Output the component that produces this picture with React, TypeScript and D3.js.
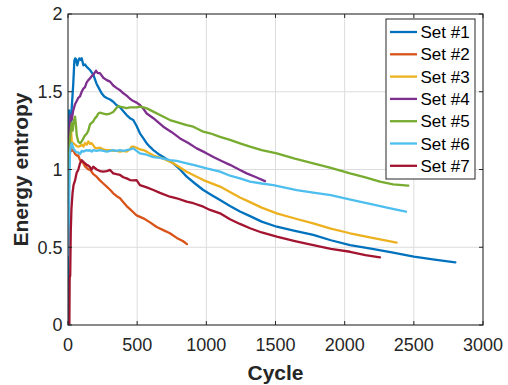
import React from "react";
import * as d3 from "d3";

const seriesNames = ["Set #1", "Set #2", "Set #3", "Set #4", "Set #5", "Set #6", "Set #7"];
const seriesColors = ["#0072BD", "#D95319", "#EDB120", "#7E2F8E", "#77AC30", "#4DBEEE", "#A2142F"];

const xTicks = [0, 500, 1000, 1500, 2000, 2500, 3000];
const yTicks = [0, 0.5, 1, 1.5, 2];
const yTickLabels = ["0", "0.5", "1", "1.5", "2"];

const set1: [number, number][] = [[1,0],[2,1.32],[8,1.38],[15,1.25],[22,1.28],[27,1.40],[33,1.48],[38,1.55],[46,1.70],[52,1.715],[58,1.71],[67,1.67],[75,1.70],[82,1.715],[92,1.705],[99,1.715],[111,1.67],[123,1.675],[135,1.66],[147,1.65],[159,1.64],[171,1.625],[183,1.61],[195,1.58],[207,1.55],[225,1.52],[243,1.49],[262,1.47],[280,1.46],[304,1.45],[327,1.436],[350,1.415],[376,1.40],[400,1.375],[424,1.35],[448,1.33],[472,1.318],[496,1.28],[520,1.233],[545,1.20],[569,1.168],[593,1.145],[617,1.125],[653,1.10],[689,1.08],[725,1.06],[761,1.04],[810,1.0],[858,0.954],[918,0.91],[978,0.868],[1040,0.835],[1099,0.804],[1171,0.765],[1243,0.73],[1316,0.70],[1400,0.665],[1509,0.632],[1640,0.605],[1773,0.579],[1900,0.545],[2039,0.514],[2200,0.49],[2350,0.465],[2500,0.44],[2650,0.42],[2800,0.403]];
const set2: [number, number][] = [[3,1.0],[8,1.15],[14,1.10],[20,1.18],[27,1.12],[38,1.125],[51,1.10],[63,1.09],[74,1.09],[87,1.06],[99,1.05],[111,1.04],[123,1.02],[135,1.01],[147,1.0],[159,1.0],[183,0.97],[207,0.954],[231,0.93],[255,0.91],[280,0.89],[304,0.87],[327,0.847],[350,0.83],[376,0.815],[400,0.79],[424,0.765],[448,0.745],[472,0.725],[496,0.705],[545,0.686],[593,0.66],[641,0.63],[689,0.61],[737,0.59],[786,0.56],[830,0.54],[860,0.52]];
const set3: [number, number][] = [[2,0.6],[8,1.2],[14,1.25],[20,1.3],[27,1.18],[38,1.17],[51,1.16],[63,1.15],[74,1.147],[87,1.15],[99,1.16],[111,1.147],[123,1.17],[135,1.16],[147,1.18],[159,1.165],[171,1.17],[183,1.155],[195,1.14],[207,1.136],[231,1.14],[255,1.13],[280,1.125],[304,1.125],[327,1.12],[350,1.12],[376,1.115],[400,1.12],[424,1.115],[448,1.13],[460,1.147],[472,1.147],[496,1.14],[520,1.13],[545,1.125],[569,1.115],[617,1.09],[689,1.07],[761,1.04],[858,0.986],[978,0.932],[1099,0.89],[1171,0.855],[1243,0.82],[1316,0.79],[1400,0.755],[1509,0.718],[1640,0.685],[1773,0.654],[1900,0.62],[2039,0.59],[2200,0.56],[2376,0.53]];
const set4: [number, number][] = [[1,0.95],[5,1.1],[9,1.25],[14,1.3],[20,1.35],[27,1.32],[38,1.38],[51,1.42],[63,1.44],[74,1.46],[87,1.47],[99,1.5],[111,1.52],[123,1.53],[135,1.56],[147,1.575],[159,1.586],[171,1.6],[183,1.61],[195,1.625],[202,1.635],[215,1.62],[231,1.62],[255,1.59],[280,1.575],[304,1.565],[327,1.54],[350,1.525],[376,1.51],[400,1.49],[424,1.475],[448,1.455],[472,1.44],[496,1.43],[520,1.415],[545,1.39],[569,1.36],[617,1.33],[689,1.275],[750,1.24],[810,1.2],[870,1.17],[930,1.136],[990,1.11],[1051,1.08],[1110,1.055],[1171,1.03],[1243,0.997],[1292,0.975],[1360,0.95],[1424,0.925]];
const set5: [number, number][] = [[2,0.7],[8,1.1],[14,1.2],[20,1.25],[27,1.3],[34,1.25],[42,1.31],[51,1.34],[58,1.28],[63,1.22],[74,1.18],[87,1.17],[99,1.18],[111,1.2],[123,1.22],[135,1.23],[147,1.25],[159,1.29],[171,1.3],[183,1.31],[195,1.33],[207,1.34],[219,1.36],[231,1.365],[255,1.36],[280,1.355],[304,1.36],[327,1.37],[350,1.395],[364,1.408],[376,1.405],[400,1.40],[424,1.395],[448,1.40],[472,1.40],[496,1.40],[520,1.404],[545,1.40],[569,1.393],[617,1.372],[665,1.35],[737,1.318],[786,1.305],[858,1.286],[906,1.275],[978,1.243],[1027,1.233],[1099,1.21],[1171,1.19],[1243,1.168],[1316,1.147],[1400,1.125],[1509,1.104],[1640,1.07],[1773,1.04],[1900,1.01],[2039,0.975],[2150,0.95],[2255,0.922],[2350,0.905],[2460,0.896]];
const set6: [number, number][] = [[3,0.45],[6,0.6],[10,0.9],[14,1.1],[20,1.15],[27,1.17],[34,1.15],[42,1.13],[51,1.12],[63,1.11],[74,1.11],[87,1.1],[99,1.12],[111,1.115],[123,1.12],[135,1.125],[147,1.12],[159,1.125],[171,1.115],[183,1.125],[207,1.12],[231,1.125],[255,1.12],[280,1.115],[304,1.12],[327,1.125],[350,1.12],[376,1.125],[400,1.12],[424,1.125],[448,1.13],[472,1.136],[496,1.12],[520,1.104],[569,1.095],[617,1.08],[665,1.075],[737,1.06],[786,1.055],[858,1.04],[906,1.03],[1002,1.007],[1099,0.986],[1171,0.96],[1243,0.943],[1316,0.922],[1400,0.91],[1484,0.9],[1560,0.885],[1653,0.868],[1773,0.851],[1900,0.835],[2002,0.815],[2100,0.795],[2200,0.775],[2330,0.75],[2443,0.729]];
const set7: [number, number][] = [[10,0],[12,0.3],[16,0.32],[20,0.6],[25,0.75],[33,0.85],[40,0.9],[51,0.93],[63,0.98],[74,0.997],[87,1.04],[99,1.06],[111,1.05],[123,1.04],[135,1.03],[147,1.025],[159,1.015],[171,1.0],[183,1.018],[207,1.0],[231,0.99],[255,0.986],[280,0.99],[304,0.997],[327,0.975],[350,0.97],[376,0.965],[400,0.95],[424,0.943],[448,0.932],[472,0.93],[496,0.932],[520,0.9],[569,0.885],[617,0.868],[665,0.85],[737,0.825],[786,0.815],[858,0.793],[906,0.783],[978,0.761],[1027,0.74],[1099,0.718],[1171,0.68],[1243,0.65],[1316,0.622],[1400,0.595],[1509,0.568],[1640,0.54],[1773,0.514],[1900,0.49],[2039,0.471],[2150,0.45],[2255,0.435]];

const allSeries = [set1, set2, set3, set4, set5, set6, set7];

const W = 508, H = 385;
const L = 68, R = 483, T = 14, B = 325;
const FONT = "'Liberation Sans', Arial, Helvetica, sans-serif";
const AX = "#262626";

export default function App() {
  const x = d3.scaleLinear().domain([0, 3000]).range([L, R]);
  const y = d3.scaleLinear().domain([0, 2]).range([B, T]);
  const line = d3.line<[number, number]>().x(d => x(d[0])).y(d => y(d[1]));

  const legX = 386, legY = 19, legW = 89, legH = 160;
  const rowH = 22.3;

  return (
    <svg width={W} height={H} style={{ position: "absolute", left: 0, top: 0, background: "#fff" }}>
      <rect x={0} y={0} width={W} height={H} fill="#fff" />
      <defs>
        <clipPath id="plotclip">
          <rect x={L} y={T} width={R - L} height={B - T} />
        </clipPath>
      </defs>
      {xTicks.map(t => (
        <line key={"gx" + t} x1={x(t)} x2={x(t)} y1={T} y2={B} stroke="#dcdcdc" strokeWidth={1} />
      ))}
      {yTicks.map(t => (
        <line key={"gy" + t} x1={L} x2={R} y1={y(t)} y2={y(t)} stroke="#dcdcdc" strokeWidth={1} />
      ))}
      <g clipPath="url(#plotclip)">
        {allSeries.map((s, i) => (
          <path key={i} d={line(s) || ""} fill="none" stroke={seriesColors[i]} strokeWidth={2.3} strokeLinejoin="round" strokeLinecap="round" />
        ))}
      </g>
      <rect x={L} y={T} width={R - L} height={B - T} fill="none" stroke={AX} strokeWidth={1} />
      {xTicks.map(t => (
        <g key={"tx" + t}>
          <line x1={x(t)} x2={x(t)} y1={B} y2={B - 4} stroke={AX} />
          <line x1={x(t)} x2={x(t)} y1={T} y2={T + 4} stroke={AX} />
          <text x={x(t)} y={351} textAnchor="middle" fontFamily={FONT} fontSize={18} fill={AX}>{t}</text>
        </g>
      ))}
      {yTicks.map((t, i) => (
        <g key={"ty" + t}>
          <line x1={L} x2={L + 4} y1={y(t)} y2={y(t)} stroke={AX} />
          <line x1={R} x2={R - 4} y1={y(t)} y2={y(t)} stroke={AX} />
          <text x={62.5} y={y(t)} dy="0.36em" textAnchor="end" fontFamily={FONT} fontSize={18} fill={AX}>{yTickLabels[i]}</text>
        </g>
      ))}
      <text x={(L + R) / 2} y={380} textAnchor="middle" fontFamily={FONT} fontSize={21} fontWeight="bold" fill={AX}>Cycle</text>
      <text transform={`translate(28,${(T + B) / 2}) rotate(-90)`} textAnchor="middle" fontFamily={FONT} fontSize={21} fontWeight="bold" fill={AX}>Energy entropy</text>
      <rect x={legX} y={legY} width={legW} height={legH} fill="#fff" stroke={AX} strokeWidth={1} />
      {seriesNames.map((n, i) => {
        const cy = legY + 13 + i * rowH;
        return (
          <g key={n}>
            <line x1={390} x2={417} y1={cy} y2={cy} stroke={seriesColors[i]} strokeWidth={2.3} />
            <text x={420.5} y={cy} dy="0.36em" fontFamily={FONT} fontSize={17} fill="#000">{n}</text>
          </g>
        );
      })}
    </svg>
  );
}
